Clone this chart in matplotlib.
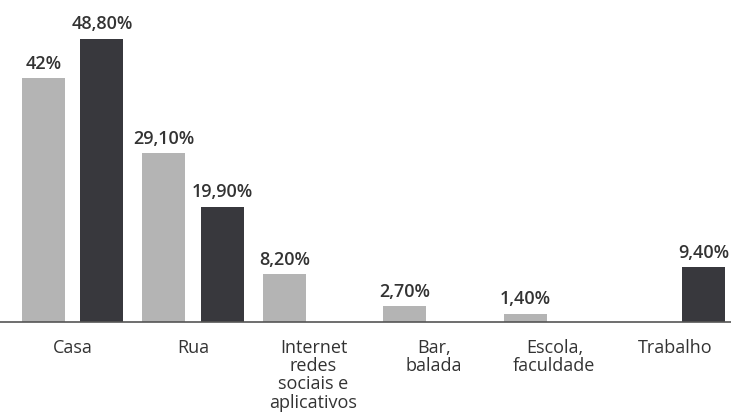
import numpy as np
import matplotlib.pyplot as plt

plt.rcParams['font.family'] = ['Open Sans', 'DejaVu Sans']

categories = ["Casa", "Rua", "Internet\nredes\nsociais e\naplicativos",
              "Bar,\nbalada", "Escola,\nfaculdade", "Trabalho"]
serie_clara = [42.0, 29.1, 8.2, 2.7, 1.4, None]
serie_escura = [48.8, 19.9, None, None, None, 9.4]
rotulos_clara = ["42%", "29,10%", "8,20%", "2,70%", "1,40%", None]
rotulos_escura = ["48,80%", "19,90%", None, None, None, "9,40%"]

cor_clara = "#b4b4b4"
cor_escura = "#38383d"

fig = plt.figure(figsize=(7.31, 4.16), dpi=100)
ax = fig.add_axes([0, 94 / 416, 1, 322 / 416])

x = np.arange(len(categories))
passo = 120.4  # pixels entre grupos
largura = 43 / passo
deslocamento = 29.25 / passo


def desenhar(valores, rotulos, offset, cor):
    for xi, v, r in zip(x, valores, rotulos):
        if v is None:
            continue
        ax.bar(xi + offset, v, width=largura, color=cor, linewidth=0)
        ax.annotate(r, (xi + offset, v), xytext=(0, 4), textcoords="offset points",
                    ha="center", va="bottom", fontsize=13, fontweight="semibold",
                    color="#333333")


desenhar(serie_clara, rotulos_clara, -deslocamento, cor_clara)
desenhar(serie_escura, rotulos_escura, deslocamento, cor_escura)

ax.set_xlim(-72.75 / passo, (731 - 72.75) / passo)
ax.set_ylim(0, 322 / 5.8)

ax.set_xticks(x)
ax.set_xticklabels(categories, fontsize=13, color="#333333", linespacing=1.02)
ax.tick_params(axis="x", length=0, pad=12)
ax.set_yticks([])

for lado in ["top", "right", "left"]:
    ax.spines[lado].set_visible(False)
ax.spines["bottom"].set_color("#555555")
ax.spines["bottom"].set_linewidth(1.2)

fig.savefig("out.png", dpi=100)
